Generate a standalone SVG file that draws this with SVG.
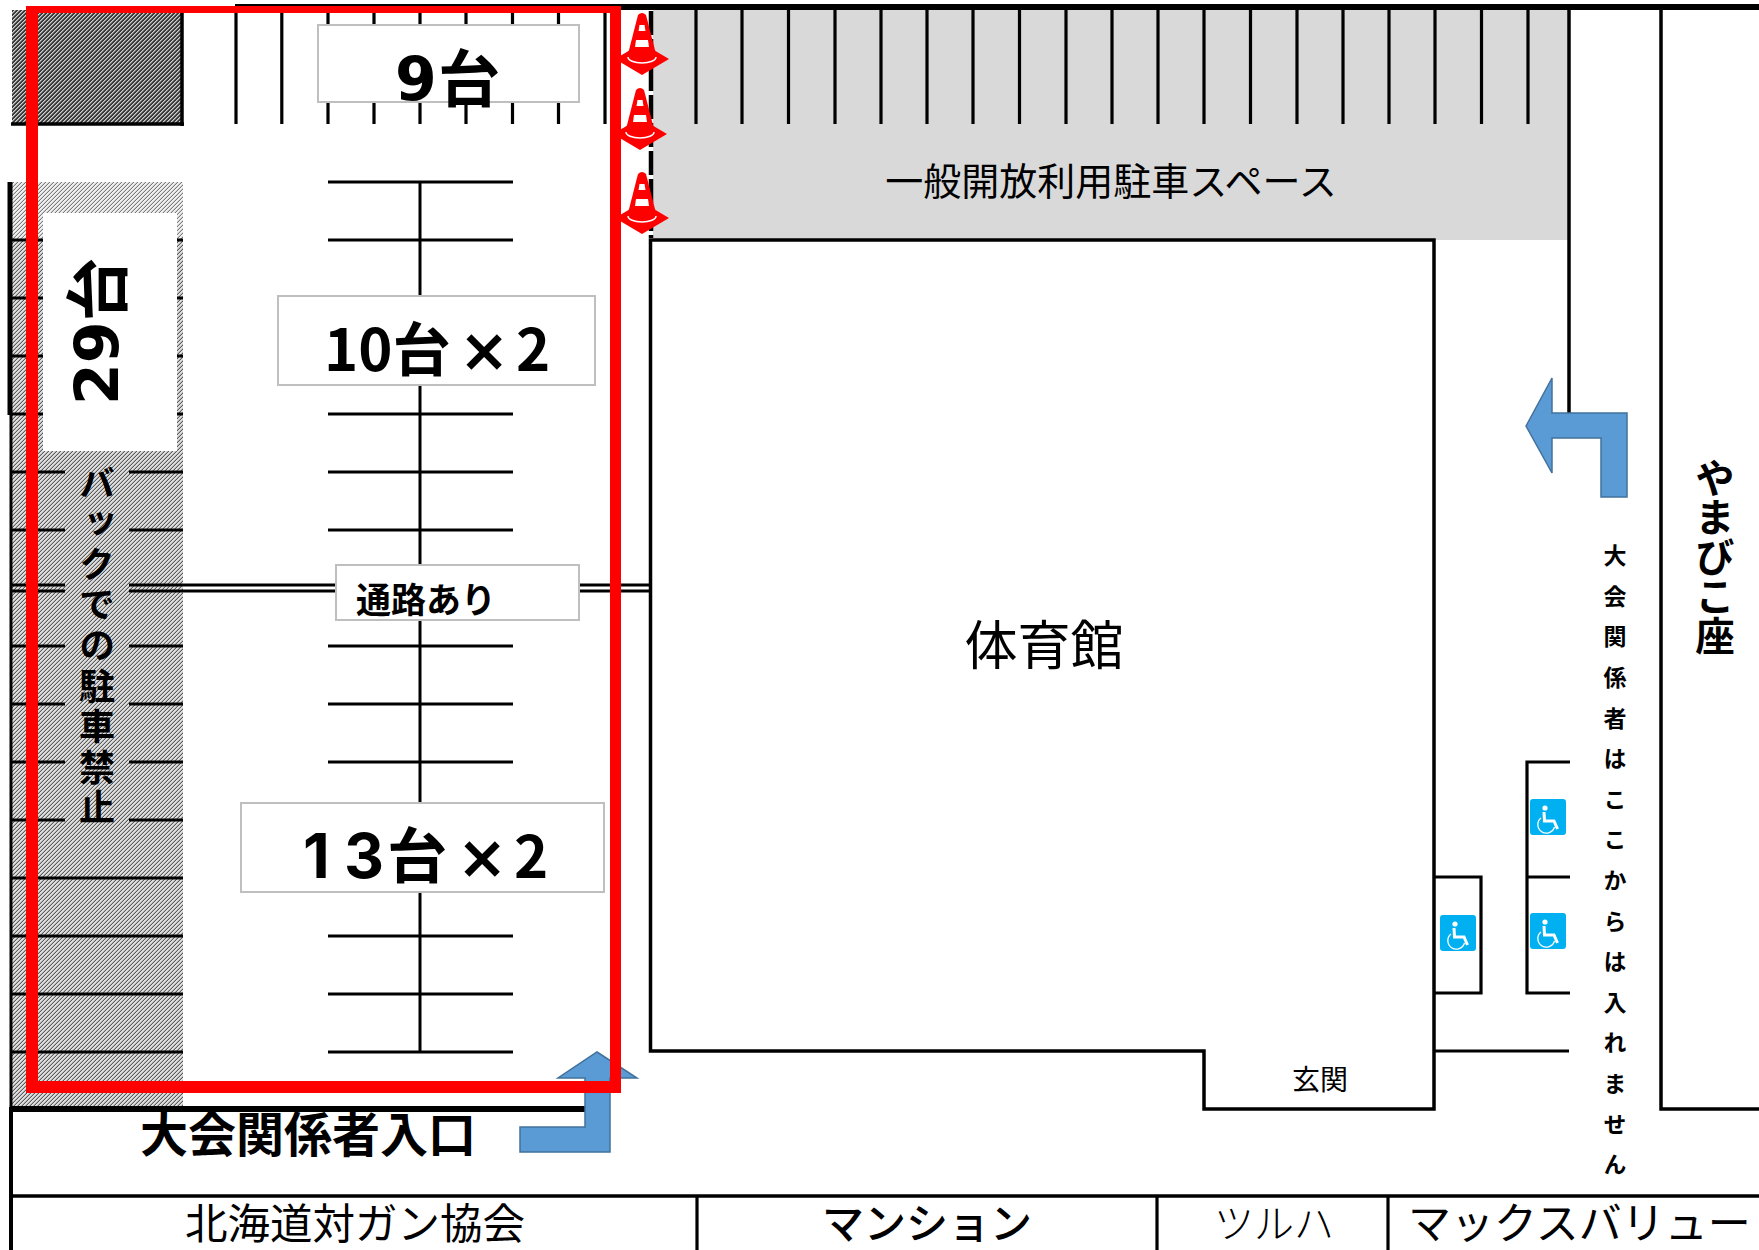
<svg xmlns="http://www.w3.org/2000/svg" xmlns:xlink="http://www.w3.org/1999/xlink" width="1759" height="1250" viewBox="0 0 1759 1250">
<style>
text{font-family:"Noto Sans CJK JP","Noto Sans",sans-serif;fill:#000}
.dj{font-family:"DejaVu Sans","Noto Sans CJK JP",sans-serif}
.in{font-family:Inter,"Noto Sans CJK JP",sans-serif}
.jp{font-family:"Noto Sans CJK JP",sans-serif}
.b{font-weight:700}
.m{font-weight:500}
.r{font-weight:400}
.mid{text-anchor:middle}
.v{writing-mode:vertical-rl;text-anchor:start}
.w{fill:none;stroke:#000;stroke-width:3.5}
.t{fill:none;stroke:#000;stroke-width:3.2}
.tb{fill:#fff;stroke:#bfbfbf;stroke-width:2}
.ar{fill:#5b9bd5;stroke:#41719c;stroke-width:1.5}
.p{shape-rendering:crispEdges}
</style>
<defs>
<pattern id="hd" patternUnits="userSpaceOnUse" width="4" height="4"><rect class="p" width="4" height="4" fill="#8e8e8e"/><path class="p" d="M2 0h2v1h-2zM1 1h2v1h-2zM0 2h2v1h-2zM3 3h1v1h-1zM0 3h1v1h-1z" fill="#3a3a3a"/><path class="p" d="M0 0h1v1h-1zM3 1h1v1h-1zM2 2h1v1h-1zM1 3h1v1h-1z" fill="#cfcfcf"/></pattern>
<pattern id="hm" patternUnits="userSpaceOnUse" width="4" height="4"><rect class="p" width="4" height="4" fill="#b4b4b4"/><path class="p" d="M3 0h1v1h-1zM2 1h1v1h-1zM1 2h1v1h-1zM0 3h1v1h-1z" fill="#5a5a5a"/><path class="p" d="M0 0h2v1h-2zM0 1h1v1h-1zM3 1h1v1h-1zM2 2h2v1h-2zM2 3h1v1h-1zM1 3h1v1h-1z" fill="#dedede"/></pattern>
<pattern id="hl" patternUnits="userSpaceOnUse" width="4" height="4"><rect class="p" width="4" height="4" fill="#cfcfcf"/><path class="p" d="M3 0h1v1h-1zM2 1h1v1h-1zM1 2h1v1h-1zM0 3h1v1h-1z" fill="#7c7c7c"/><path class="p" d="M0 0h2v1h-2zM0 1h1v1h-1zM3 1h1v1h-1zM2 2h2v1h-2zM2 3h1v1h-1zM1 3h1v1h-1z" fill="#f0f0f0"/></pattern>
<g id="cone">
<polygon points="-27,46 0,30 27,46 0,62" fill="#f00"/>
<path d="M-14,44A14,6 0 0 0 14,44" fill="none" stroke="#fff" stroke-width="1.500"/>
<path d="M-4,2Q0,-2 4,2L14,41Q0,49 -14,41Z" fill="#f00"/>
<polygon points="-2.500,12 2.500,12 3.500,18 -3.500,18" fill="#fff"/>
<polygon points="-6,27 6,27 7,34 -7,34" fill="#fff"/>
</g>
<g id="wc">
<rect width="36" height="36" rx="3" fill="#00b0f0"/>
<circle cx="15" cy="9" r="2.600" fill="#fff"/>
<path d="M14,13L14.500,22L24,22L27.500,30" fill="none" stroke="#fff" stroke-width="3"/>
<path d="M11,19A8.500,8.500 0 1 0 24.500,28" fill="none" stroke="#fff" stroke-width="1.300"/>
</g>
</defs>
<rect width="1759" height="1250" fill="#fff"/>

<g id="hatched-areas">
<rect x="12" y="10" width="170" height="114" fill="url(#hd)"/>
<rect x="12" y="182" width="171" height="58" fill="url(#hl)"/>
<rect x="12" y="240" width="171" height="866" fill="url(#hm)"/>
</g>
<rect id="public-parking" x="653" y="10" width="916" height="230" fill="#d9d9d9"/>

<g id="connectors">
<path class="t" d="M236 10V124M281.800 10V124M328 10V124M374 10V124M420 10V124M466 10V124M512.500 10V124M558.500 10V124M605 10V124M696 10V124M742 10V124M788.500 10V124M835 10V124M881 10V124M927 10V124M973 10V124M1019.500 10V124M1066 10V124M1112 10V124M1158 10V124M1204 10V124M1250.500 10V124M1297 10V124M1343 10V124M1389 10V124M1435 10V124M1481.500 10V124M1528 10V124"/>
<path d="M235 7H1759" stroke="#000" stroke-width="6" fill="none"/>
<path d="M11 124H184M182 10V126" fill="none" stroke="#000" stroke-width="3.500"/>
<path d="M651 11V238" fill="none" stroke="#000" stroke-width="4.500" stroke-dasharray="24 4"/>
<path class="t" d="M12 240H183M12 298H183M12 356H183M12 414H183M12 472H183M12 530H183M12 585H650M12 591H650M12 646H183M12 704H183M12 762H183M12 820H183M12 878H183M12 936H183M12 994H183M12 1052H183"/>
<path d="M10 182V415" stroke="#000" stroke-width="5" fill="none"/>
<path d="M11 415V1109" stroke="#000" stroke-width="3" fill="none"/>
<path d="M420 182V1052" stroke="#000" stroke-width="3" fill="none"/>
<path class="t" d="M328 182H513M328 240H513M328 414H513M328 472H513M328 530H513M328 646H513M328 704H513M328 762H513M328 936H513M328 994H513M328 1052H513"/>
<path d="M12 1109H586" stroke="#000" stroke-width="6" fill="none"/>
<path d="M11 1107V1250" stroke="#000" stroke-width="4" fill="none"/>
<path class="w" d="M11 1196H1759"/>
<path class="t" d="M697 1196V1250M1157 1196V1250M1388 1196V1250"/>
<path class="w" d="M1569 10V414"/>
<path class="w" d="M1661 10V1109H1759"/>
<path class="t" d="M1570 762H1527V993H1570M1527 877H1570M1434 877H1481V993H1434M1434 1051H1569"/>
</g>

<g id="gym"><path class="w" d="M650.500 1051V240H1434V1109H1204V1051Z"/><text class="r mid" x="1044" y="665" font-size="53">体育館</text></g>
<g id="label-public"><text class="r mid" x="1111" y="195" font-size="38">一般開放利用駐車スペース</text></g>
<g id="label-entrance"><text class="r mid" x="1320" y="1090" font-size="28">玄関</text></g>

<g id="box-9"><rect class="tb" x="318" y="25" width="261" height="77"/><text class="b dj" x="395" y="100" font-size="60">9<tspan class="jp" x="438" dy="2" font-size="62">台</tspan></text></g>
<g id="box-10"><rect class="tb" x="278" y="296" width="317" height="89"/><text class="b" x="324" y="371" font-size="58">10台<tspan class="dj" x="459" font-size="60">×</tspan><tspan x="516">2</tspan></text></g>
<g id="box-13"><rect class="tb" x="241" y="803" width="363" height="89"/><text class="b in" x="303" y="878" font-size="62">1<tspan x="344">3</tspan><tspan class="jp" x="387" font-size="60">台</tspan><tspan class="dj" x="457" font-size="60">×</tspan><tspan class="jp" x="514" font-size="58">2</tspan></text></g>
<g id="box-tsuro"><rect class="tb" x="336" y="565" width="243" height="55"/><text class="b" x="356" y="613" font-size="35">通路あり</text></g>
<g id="box-29"><rect x="43" y="213" width="134" height="238" fill="#fff"/><text class="b dj" transform="translate(118,405) rotate(-90)" font-size="60">29<tspan class="jp" dy="3" font-size="64">台</tspan></text></g>
<g id="label-noback"><rect x="65" y="451" width="64" height="385" fill="url(#hm)"/><text class="b v" x="97" y="465" font-size="36" letter-spacing="4.600">バックでの駐車禁止</text></g>
<g id="label-staff-entry"><text class="b" x="140" y="1152" font-size="48">大会関係者入口</text></g>

<g id="arrow-entry"><polygon class="ar" points="597,1052 637,1078 610,1078 610,1152 520,1152 520,1127 585,1127 585,1078 558,1078"/></g>
<g id="arrow-exit"><polygon class="ar" points="1526,426 1552,378 1552,413 1627,413 1627,497 1601,497 1601,438 1552,438 1552,473"/></g>

<g id="cone-1"><use xlink:href="#cone" href="#cone" transform="translate(642,13)"/></g>
<g id="cone-2"><use xlink:href="#cone" href="#cone" transform="translate(640,88)"/></g>
<g id="cone-3"><use xlink:href="#cone" href="#cone" transform="translate(642,172)"/></g>

<path id="red-frame" fill="#f00" fill-rule="evenodd" d="M26 6H621V1093H26ZM38 13V1081H610V13Z"/>

<g id="notice"><text class="b v" x="1615" y="544" font-size="23" letter-spacing="17.600">大会関係者はここからは入れません</text></g>
<g id="label-yamabiko"><text class="b v" x="1715" y="458" font-size="39.500">やまびこ座</text></g>

<g id="wc-1"><use xlink:href="#wc" href="#wc" x="1530" y="799"/></g>
<g id="wc-2"><use xlink:href="#wc" href="#wc" x="1530" y="913"/></g>
<g id="wc-3"><use xlink:href="#wc" href="#wc" x="1440" y="915"/></g>

<g id="n-gan"><text class="r" x="185" y="1239" font-size="42.500">北海道対ガン協会</text></g>
<g id="n-mansion"><text class="m" x="822" y="1239" font-size="42">マンション</text></g>
<g id="n-tsuruha"><text class="r" x="1214" y="1238" font-size="40" style="font-weight:300">ツルハ</text></g>
<g id="n-max"><text class="r" x="1408" y="1239" font-size="43">マックスバリュー</text></g>
</svg>
